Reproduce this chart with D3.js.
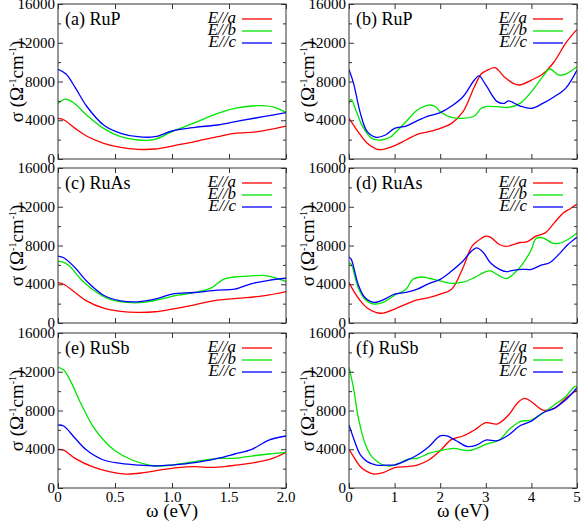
<!DOCTYPE html>
<html>
<head>
<meta charset="utf-8">
<script src="https://cdn.jsdelivr.net/npm/d3@7"></script>
<style>
  body { margin: 0; background: #fff; }
</style>
</head>
<body>
<svg width="581" height="524"></svg>
<script>
// ---- data: [omega (eV), sigma (1/(Ohm cm))] ----
const seriesNames = ['E//a', 'E//b', 'E//c'];
const seriesColors = ['#ff0000', '#00e600', '#0000ff'];
const panelLabels = ['(a) RuP', '(b) RuP', '(c) RuAs', '(d) RuAs', '(e) RuSb', '(f) RuSb'];
const yTicks = [0, 4000, 8000, 12000, 16000];
const xTicksLeft = [0, 0.5, 1.0, 1.5, 2.0];
const xTicksRight = [0, 1, 2, 3, 4, 5];

// (a) RuP, 0-2 eV
const rupLowA = [[0,4200],[0.05,4050],[0.15,3160],[0.25,2370],[0.4,1620],[0.55,1200],[0.7,1000],[0.85,1030],[1.0,1340],[1.2,1790],[1.4,2300],[1.55,2650],[1.75,2820],[2.0,3400]];
const rupLowB = [[0,5740],[0.07,6190],[0.15,5680],[0.25,4540],[0.4,3160],[0.55,2300],[0.7,1960],[0.85,2030],[1.0,2820],[1.2,3750],[1.4,4710],[1.55,5230],[1.7,5470],[1.8,5500],[1.9,5330],[2.0,4820]];
const rupLowC = [[0,9250],[0.07,8770],[0.15,7400],[0.25,5470],[0.4,3510],[0.55,2650],[0.7,2300],[0.85,2300],[1.0,2890],[1.2,3270],[1.4,3510],[1.6,3960],[1.8,4370],[2.0,4780]];

// (b) RuP, 0-5 eV
const rupHighA = [[0,4200],[0.1,3500],[0.25,2480],[0.4,1620],[0.6,1030],[0.75,1000],[1.0,1380],[1.25,1960],[1.5,2550],[1.75,2820],[2.0,3160],[2.25,3680],[2.5,4880],[2.75,7460],[2.9,8770],[3.0,9080],[3.2,9430],[3.4,8500],[3.6,7810],[3.75,7640],[4.0,8150],[4.25,8770],[4.5,10040],[4.75,11940],[5.0,13380]];
const rupHighB = [[0,5740],[0.05,6160],[0.15,5060],[0.3,3340],[0.5,2130],[0.7,1960],[0.9,2240],[1.0,2650],[1.25,3850],[1.5,5060],[1.75,5570],[1.9,5400],[2.0,4880],[2.25,4300],[2.5,4200],[2.75,4440],[2.9,5230],[3.0,5400],[3.25,5400],[3.5,5330],[3.75,5740],[4.0,6950],[4.25,8500],[4.4,9290],[4.6,8670],[4.75,8770],[5.0,9530]];
const rupHighC = [[0,9250],[0.1,7810],[0.25,4710],[0.4,2820],[0.6,2240],[0.8,2480],[1.0,3160],[1.25,3400],[1.5,3960],[1.75,4440],[2.0,4780],[2.25,5470],[2.5,6430],[2.75,8150],[2.85,8570],[3.0,7640],[3.25,5920],[3.4,5740],[3.5,5990],[3.75,5470],[4.0,5230],[4.25,5740],[4.5,6430],[4.75,7290],[5.0,9180]];

// (c) RuAs, 0-2 eV
const ruasLowA = [[0,4170],[0.05,4000],[0.15,3150],[0.25,2290],[0.4,1540],[0.55,1200],[0.7,1090],[0.85,1160],[1.0,1440],[1.2,1880],[1.4,2360],[1.6,2560],[1.8,2800],[2.0,3250]];
const ruasLowB = [[0,6330],[0.03,6330],[0.1,5880],[0.2,4510],[0.3,3490],[0.45,2460],[0.6,2120],[0.75,2120],[0.9,2460],[1.05,2870],[1.2,3150],[1.35,3660],[1.45,4510],[1.55,4750],[1.7,4860],[1.8,4920],[1.9,4690],[2.0,4280]];
const ruasLowC = [[0,6910],[0.05,6740],[0.15,5710],[0.25,4340],[0.4,2870],[0.55,2290],[0.7,2190],[0.85,2460],[1.0,2980],[1.2,3150],[1.4,3390],[1.55,3490],[1.7,4070],[1.85,4410],[2.0,4620]];

// (d) RuAs, 0-5 eV
const ruasHighA = [[0,4170],[0.1,3320],[0.25,2290],[0.4,1540],[0.6,1060],[0.75,1030],[1.0,1440],[1.25,1950],[1.5,2390],[1.75,2630],[2.0,2980],[2.25,3490],[2.5,5710],[2.7,7930],[2.9,8720],[3.0,8960],[3.1,8860],[3.3,8100],[3.45,7900],[3.6,8100],[3.75,8310],[3.9,8380],[4.1,8960],[4.3,9300],[4.5,10330],[4.7,11350],[4.85,11800],[5.0,12280]];
const ruasHighB = [[0,6220],[0.05,6050],[0.2,3660],[0.35,2460],[0.55,1950],[0.75,2120],[1.0,2870],[1.25,3490],[1.4,4510],[1.6,4750],[1.75,4620],[2.0,4340],[2.25,4100],[2.5,4210],[2.75,4690],[3.0,5300],[3.1,5370],[3.3,4860],[3.45,4580],[3.6,5030],[3.8,6050],[4.0,7590],[4.1,8720],[4.25,8790],[4.45,8280],[4.6,8210],[4.8,8620],[5.0,9300]];
const ruasHighC = [[0,6810],[0.05,6570],[0.2,4000],[0.35,2630],[0.55,2120],[0.75,2390],[1.0,2980],[1.25,3150],[1.5,3490],[1.75,4070],[2.0,4510],[2.25,5370],[2.5,6400],[2.65,7250],[2.8,7760],[2.95,7250],[3.1,6220],[3.3,5540],[3.45,5300],[3.6,5440],[3.8,5540],[4.0,5540],[4.2,5950],[4.4,6220],[4.6,7080],[4.8,8100],[5.0,8860]];

// (e) RuSb, 0-2 eV
const rusbLowA = [[0,3990],[0.05,3920],[0.15,3060],[0.3,2200],[0.45,1690],[0.6,1440],[0.75,1580],[0.9,1860],[1.05,2100],[1.2,2200],[1.35,2130],[1.5,2270],[1.65,2480],[1.8,2790],[1.9,3130],[2.0,3680]];
const rusbLowB = [[0,12450],[0.05,12180],[0.12,10800],[0.2,8740],[0.3,6500],[0.4,4950],[0.5,3850],[0.65,2890],[0.8,2370],[0.9,2270],[1.0,2370],[1.2,2720],[1.4,3060],[1.55,3060],[1.7,3300],[1.85,3510],[2.0,3680]];
const rusbLowC = [[0,6500],[0.05,6400],[0.15,5130],[0.25,3920],[0.4,2890],[0.55,2550],[0.7,2370],[0.85,2270],[1.0,2370],[1.2,2610],[1.4,3060],[1.55,3510],[1.7,3990],[1.85,4950],[2.0,5370]];

// (f) RuSb, 0-5 eV
const rusbHighA = [[0,3990],[0.1,3230],[0.25,2200],[0.4,1690],[0.55,1440],[0.75,1580],[1.0,2100],[1.25,2200],[1.5,2370],[1.75,2890],[2.0,3850],[2.25,5020],[2.5,5370],[2.75,5990],[3.0,6740],[3.25,6600],[3.5,7530],[3.7,8810],[3.85,9250],[4.0,8910],[4.25,8050],[4.5,8220],[4.75,9250],[5.0,10110]];
const rusbHighB = [[0,12450],[0.1,10290],[0.2,7360],[0.35,4610],[0.5,3230],[0.7,2480],[0.9,2270],[1.1,2550],[1.3,2990],[1.5,3060],[1.75,3580],[2.0,3850],[2.3,4090],[2.6,3850],[2.8,4090],[3.0,4510],[3.3,4950],[3.5,5990],[3.75,6850],[4.0,7020],[4.25,7710],[4.5,8570],[4.75,9430],[4.95,10460],[5.0,10460]];
const rusbHighC = [[0,6500],[0.1,5130],[0.25,3410],[0.4,2720],[0.6,2370],[0.9,2370],[1.0,2370],[1.25,2820],[1.5,3410],[1.75,4270],[2.0,5370],[2.15,5370],[2.35,4880],[2.6,4270],[2.8,4440],[3.0,4950],[3.25,4880],[3.5,5470],[3.75,6430],[4.0,6910],[4.25,7770],[4.5,8220],[4.75,9080],[5.0,10350]];

const panelSeries = [
  [rupLowA, rupLowB, rupLowC], [rupHighA, rupHighB, rupHighC],
  [ruasLowA, ruasLowB, ruasLowC], [ruasHighA, ruasHighB, ruasHighC],
  [rusbLowA, rusbLowB, rusbLowC], [rusbHighA, rusbHighB, rusbHighC]
];

// ---- layout ----
var svg = d3.select('svg');
var colX = [[58, 286], [349, 577]];
var rowTop = [4, 168, 333];
var panelH = 155;
var frameColor = '#333';
var serif = 'Liberation Serif';

panelSeries.forEach(function(series, i) {
  var col = i % 2, row = Math.floor(i / 2);
  var x0 = colX[col][0], x1 = colX[col][1];
  var top = rowTop[row], bottom = top + panelH;
  var xMax = col === 0 ? 2 : 5;
  var xTicks = col === 0 ? xTicksLeft : xTicksRight;

  var xScale = d3.scaleLinear().domain([0, xMax]).range([x0, x1]);
  var yScale = d3.scaleLinear().domain([0, 16000]).range([bottom, top]);

  var g = svg.append('g');
  var clipId = 'clip' + i;
  g.append('clipPath').attr('id', clipId)
    .append('rect').attr('x', x0).attr('y', top).attr('width', x1 - x0).attr('height', panelH);

  // curves
  var line = d3.line()
    .x(d => xScale(d[0]))
    .y(d => yScale(d[1]))
    .curve(d3.curveCatmullRom.alpha(0.5));

  series.forEach(function(s, k) {
    g.append('path')
      .datum(s)
      .attr('d', line)
      .attr('fill', 'none')
      .attr('stroke', seriesColors[k])
      .attr('stroke-width', 1.3)
      .attr('clip-path', 'url(#' + clipId + ')');
  });

  // inward ticks on all four sides
  var yAxisL = d3.axisRight(yScale).tickValues(d3.range(0, 16001, 2000)).tickSize(5).tickFormat('');
  var yAxisR = d3.axisLeft(yScale).tickValues(d3.range(0, 16001, 2000)).tickSize(5).tickFormat('');
  var xAxisB = d3.axisTop(xScale).tickValues(xTicks).tickSize(5).tickFormat('');
  var xAxisT = d3.axisBottom(xScale).tickValues(xTicks).tickSize(5).tickFormat('');
  [[yAxisL, x0, 0], [yAxisR, x1, 0], [xAxisB, 0, bottom], [xAxisT, 0, top]].forEach(function(a) {
    var ax = g.append('g').attr('transform', 'translate(' + a[1] + ',' + a[2] + ')').call(a[0]);
    ax.select('.domain').remove();
    ax.selectAll('line').attr('stroke', frameColor);
  });
  // minor y ticks shorter
  g.selectAll('.tick').filter(d => d > 2.5 && d % 4000 === 2000).selectAll('line')
    .attr('x2', function() { return +d3.select(this).attr('x2') > 0 ? 3 : -3; });

  // frame
  g.append('rect')
    .attr('x', x0).attr('y', top).attr('width', x1 - x0).attr('height', panelH)
    .attr('fill', 'none').attr('stroke', frameColor).attr('stroke-width', 1);

  // y tick labels
  g.selectAll('.ylab').data(yTicks).enter().append('text')
    .attr('x', x0 - 3).attr('y', d => yScale(d) + 5)
    .attr('text-anchor', 'end')
    .style('font-family', serif)
    .attr('font-size', 15)
    .text(d => d);

  // y axis title
  var yt = g.append('text')
    .attr('transform', 'translate(' + (x0 - 35) + ',' + (top + panelH / 2) + ') rotate(-90)')
    .attr('text-anchor', 'middle')
    .style('font-family', serif)
    .attr('font-size', 19);
  yt.append('tspan').text('σ (Ω');
  yt.append('tspan').attr('font-size', 10).attr('dy', -7).text('-1');
  yt.append('tspan').attr('dy', 7).text('cm');
  yt.append('tspan').attr('font-size', 10).attr('dy', -7).text('-1');
  yt.append('tspan').attr('dy', 7).text(')');

  // panel label
  g.append('text')
    .attr('x', x0 + 7).attr('y', top + 21)
    .style('font-family', serif)
    .attr('font-size', 18)
    .text(panelLabels[i]);

  // legend
  seriesNames.forEach(function(name, k) {
    var ly = top + 15 + k * 12;
    g.append('line')
      .attr('x1', x1 - 44).attr('x2', x1 - 14)
      .attr('y1', ly).attr('y2', ly)
      .attr('stroke', seriesColors[k]).attr('stroke-width', 1.3);
    g.append('text')
      .attr('x', x1 - 50).attr('y', ly + 4)
      .attr('text-anchor', 'end')
      .style('font-family', serif)
      .attr('font-size', 17)
      .attr('font-style', 'italic')
      .text(name);
  });

  // x tick labels + title on bottom row only
  if (row === 2) {
    g.selectAll('.xlab').data(xTicks).enter().append('text')
      .attr('x', d => xScale(d)).attr('y', bottom + 14)
      .attr('text-anchor', 'middle')
      .style('font-family', serif)
      .attr('font-size', 15)
      .text(d => col === 0 ? (d === 0 ? '0' : d3.format('.1f')(d)) : d);
    g.append('text')
      .attr('x', (x0 + x1) / 2).attr('y', bottom + 29)
      .attr('text-anchor', 'middle')
      .style('font-family', serif)
      .attr('font-size', 19)
      .text('ω (eV)');
  }
});
</script>
</body>
</html>
